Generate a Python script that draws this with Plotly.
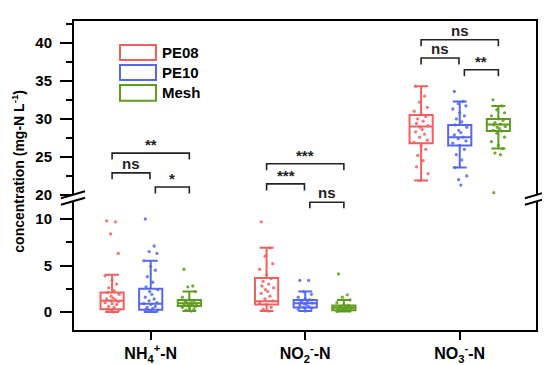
import plotly.graph_objects as go

# ---------------- data ----------------
CATEGORIES = ["NH<sub>4</sub><sup>+</sup>-N", "NO<sub>2</sub><sup>-</sup>-N", "NO<sub>3</sub><sup>-</sup>-N"]
SERIES = ["PE08", "PE10", "Mesh"]
COLORS = ["#F25F5F", "#5567EE", "#5E9B1E"]

# box statistics [NH4, NO2, NO3] for each series
Q1 = {"PE08": [0.3, 0.8, 26.8], "PE10": [0.25, 0.5, 26.5], "Mesh": [0.65, 0.18, 28.4]}
MEDIAN = {"PE08": [1.2, 1.15, 29.0], "PE10": [0.9, 0.95, 27.6], "Mesh": [0.95, 0.45, 29.25]}
Q3 = {"PE08": [2.1, 3.65, 30.5], "PE10": [2.5, 1.3, 29.2], "Mesh": [1.3, 0.7, 30.0]}
LOWER = {"PE08": [0.0, 0.1, 21.9], "PE10": [0.0, 0.1, 23.6], "Mesh": [0.1, 0.05, 26.1]}
UPPER = {"PE08": [4.0, 6.9, 34.3], "PE10": [5.5, 2.2, 32.3], "Mesh": [2.2, 1.3, 31.7]}

# individual measurements
NH4_PE08 = [9.8, 9.7, 8.4, 6.3, 3.9, 3.4, 3.0, 2.6, 2.3, 2.1, 1.9, 1.7, 1.5, 1.4, 1.3, 1.2,
            1.1, 1.0, 0.9, 0.8, 0.6, 0.5, 0.3, 0.2, 0.1, 0.0]
NH4_PE10 = [10.0, 7.1, 6.5, 6.3, 5.5, 4.9, 4.5, 3.8, 3.2, 2.7, 2.4, 2.2, 1.9, 1.6, 1.4, 1.2,
            1.0, 0.9, 0.8, 0.6, 0.5, 0.4, 0.3, 0.2, 0.1]
NH4_MESH = [4.6, 2.8, 2.7, 2.2, 1.6, 1.3, 1.2, 1.1, 1.0, 1.0, 0.9, 0.9, 0.8, 0.8, 0.7, 0.7,
            0.6, 0.5, 0.4, 0.3, 0.2, 0.1]
NO2_PE08 = [9.7, 6.9, 6.0, 5.2, 4.6, 4.0, 3.6, 3.3, 3.0, 2.8, 2.6, 2.4, 2.2, 2.0, 1.7, 1.4,
            1.2, 1.0, 0.8, 0.5, 0.3, 0.1]
NO2_PE10 = [3.4, 3.4, 2.2, 1.9, 1.6, 1.4, 1.3, 1.2, 1.1, 1.0, 0.95, 0.9, 0.8, 0.7, 0.6, 0.5,
            0.4, 0.3, 0.1]
NO2_MESH = [4.1, 1.85, 1.6, 1.3, 1.0, 0.8, 0.7, 0.6, 0.5, 0.5, 0.45, 0.4, 0.35, 0.3, 0.25,
            0.2, 0.15, 0.05]
NO3_PE08 = [34.3, 33.0, 32.2, 31.5, 31.0, 30.6, 30.3, 30.0, 29.7, 29.4, 29.1, 28.9, 28.6,
            28.3, 28.0, 27.6, 27.2, 26.9, 26.5, 26.0, 25.2, 24.5, 23.7, 22.8, 21.9]
NO3_PE10 = [33.6, 32.3, 32.0, 31.7, 31.3, 30.8, 30.4, 30.0, 29.6, 29.2, 28.9, 28.5, 28.2,
            27.9, 27.6, 27.4, 27.1, 26.8, 26.5, 26.0, 25.3, 24.6, 23.6, 22.5, 22.0, 21.3]
NO3_MESH = [32.5, 31.7, 31.2, 30.8, 30.4, 30.0, 29.8, 29.5, 29.3, 29.2, 29.0, 28.9, 28.7,
            28.5, 28.4, 28.1, 27.6, 27.0, 26.5, 26.1, 25.5, 25.3, 20.3]

POINTS = {
    "PE08": [NH4_PE08, NO2_PE08, NO3_PE08],
    "PE10": [NH4_PE10, NO2_PE10, NO3_PE10],
    "Mesh": [NH4_MESH, NO2_MESH, NO3_MESH],
}

# significance brackets: (category index, from series, to series, bar height, label, axis)
BRACKETS = [
    (0, 0, 2, 25.5, "**", "y2"),
    (0, 0, 1, 22.9, "ns", "y2"),
    (0, 1, 2, 21.05, "*", "y2"),
    (1, 0, 2, 24.1, "***", "y2"),
    (1, 0, 1, 21.45, "***", "y2"),
    (1, 1, 2, 11.8, "ns", "y"),
    (2, 0, 2, 40.4, "ns", "y2"),
    (2, 0, 1, 38.0, "ns", "y2"),
    (2, 1, 2, 36.45, "**", "y2"),
]

# ---------------- styling ----------------
OFFSETS = [-0.25, 0.0, 0.25]
BOX_W = 0.15
JITTER = [-0.035, 0.022, -0.01, 0.04, -0.045, 0.0, 0.03, -0.022, 0.013, -0.03, 0.045, -0.007, 0.007]
FONT = "Liberation Sans, Arial, sans-serif"
BREAK = 0.4277

fig = go.Figure()

for si, s in enumerate(SERIES):
    col = COLORS[si]
    for ci in range(len(CATEGORIES)):
        pos = ci + 1 + OFFSETS[si]
        yax = "y2" if ci == 2 else "y"
        fig.add_trace(go.Box(
            x=[pos], q1=[Q1[s][ci]], median=[MEDIAN[s][ci]], q3=[Q3[s][ci]],
            lowerfence=[LOWER[s][ci]], upperfence=[UPPER[s][ci]],
            width=BOX_W, whiskerwidth=0.6, boxpoints=False,
            line=dict(color=col, width=2), fillcolor="rgba(255,255,255,0)",
            yaxis=yax, showlegend=False, hoverinfo="skip",
        ))
        vals = POINTS[s][ci]
        xs = [pos + JITTER[i % len(JITTER)] for i in range(len(vals))]
        fig.add_trace(go.Scatter(
            x=xs, y=vals, mode="markers", yaxis=yax,
            marker=dict(color=col, size=3.3, opacity=0.85),
            showlegend=False, hoverinfo="skip",
        ))

shapes = []
annotations = []

# frame
shapes.append(dict(type="rect", xref="paper", yref="paper", x0=0, x1=1, y0=0, y1=1,
                   line=dict(color="black", width=2), layer="above"))

# axis break marks
dx, dy, sep = 0.026, 0.0113, 0.0105
for xb in (0, 1):
    shapes.append(dict(
        type="path", xref="paper", yref="paper", layer="above",
        path=(f"M {xb-dx},{BREAK-sep-dy} L {xb+dx},{BREAK-sep+dy} "
              f"L {xb+dx},{BREAK+sep+dy} L {xb-dx},{BREAK+sep-dy} Z"),
        fillcolor="white", line=dict(width=0)))
    for sgn in (-1, 1):
        shapes.append(dict(
            type="line", xref="paper", yref="paper", layer="above",
            x0=xb - dx, y0=BREAK + sgn * sep - dy, x1=xb + dx, y1=BREAK + sgn * sep + dy,
            line=dict(color="black", width=2)))

# significance brackets
for ci, a, b, ytop, lab, ax in BRACKETS:
    x0 = ci + 1 + OFFSETS[a] + (0.03 if a == 1 else 0.0)
    x1 = ci + 1 + OFFSETS[b] + (-0.005 if b == 1 else 0.0)
    drop = 0.85 if ax == "y2" else 0.65
    shapes.append(dict(
        type="path", xref="x", yref=ax,
        path=f"M {x0},{ytop-drop} L {x0},{ytop} L {x1},{ytop} L {x1},{ytop-drop}",
        line=dict(color="#222", width=1.6)))
    annotations.append(dict(
        x=(x0 + x1) / 2, y=ytop, xref="x", yref=ax, text=lab, showarrow=False,
        yanchor="bottom", yshift=-2 if "*" in lab else -1,
        font=dict(family=FONT, size=15, color="#222", weight="bold")))

# legend (drawn manually, Origin style)
leg_y = [(0.871, 0.920), (0.807, 0.855), (0.740, 0.791)]
for si, s in enumerate(SERIES):
    y0, y1 = leg_y[si]
    shapes.append(dict(type="rect", xref="paper", yref="paper", x0=0.1013, x1=0.1789,
                       y0=y0, y1=y1, line=dict(color=COLORS[si], width=2)))
    annotations.append(dict(x=0.187, y=(y0 + y1) / 2, xref="paper", yref="paper", text=s,
                            showarrow=False, xanchor="left", yanchor="middle",
                            font=dict(family=FONT, size=15, color="black", weight="bold")))

# y-axis title
annotations.append(dict(x=-0.118, y=0.513, xref="paper", yref="paper",
                        text="concentration (mg-N L<sup>-1</sup>)", textangle=-90,
                        showarrow=False, xanchor="center", yanchor="middle",
                        font=dict(family=FONT, size=14, color="black", weight="bold")))

ytickfont = dict(family=FONT, size=15, color="black", weight="bold")
xtickfont = dict(family=FONT, size=16, color="black", weight="bold")
fig.update_layout(
    width=550, height=365,
    margin=dict(l=65, r=21, t=12, b=42),
    paper_bgcolor="white", plot_bgcolor="white",
    showlegend=False,
    shapes=shapes, annotations=annotations,
    xaxis=dict(range=[0.497, 3.50], tickvals=[1, 2, 3], ticktext=CATEGORIES,
               ticks="outside", ticklen=8, tickwidth=2, tickcolor="black",
               showgrid=False, zeroline=False, showline=False, anchor="y",
               tickfont=xtickfont, automargin=False),
    yaxis=dict(domain=[0, BREAK], range=[-2.04, 12.26], tickvals=[0, 5, 10],
               ticks="outside", ticklen=12, tickwidth=2, tickcolor="black",
               ticklabelstandoff=5,
               minor=dict(tickvals=[2.5, 7.5], ticks="outside", ticklen=6, tickwidth=2,
                          tickcolor="black"),
               showgrid=False, zeroline=False, showline=False, anchor="x",
               tickfont=ytickfont, automargin=False),
    yaxis2=dict(domain=[BREAK, 1], range=[19.6, 43.0], tickvals=[20, 25, 30, 35, 40],
                ticks="outside", ticklen=12, tickwidth=2, tickcolor="black",
                ticklabelstandoff=5,
                minor=dict(tickvals=[22.5, 27.5, 32.5, 37.5, 42.5], ticks="outside",
                           ticklen=6, tickwidth=2, tickcolor="black"),
                showgrid=False, zeroline=False, showline=False, anchor="x",
                tickfont=ytickfont, automargin=False),
)

fig.write_html("out.html")
